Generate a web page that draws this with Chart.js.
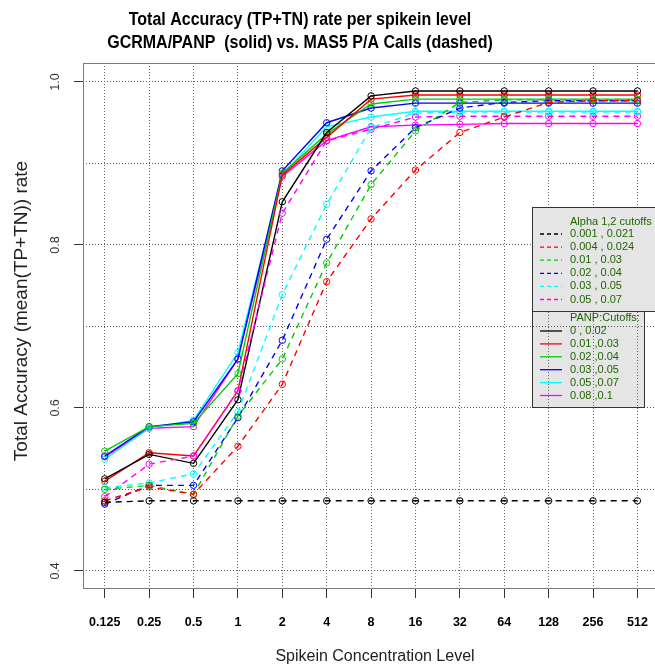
<!DOCTYPE html>
<html>
<head>
<meta charset="utf-8">
<script src="https://cdn.jsdelivr.net/npm/chart.js@4.4.0/dist/chart.umd.min.js"></script>
<style>
  html, body { margin: 0; padding: 0; background: #fff; }
  #wrap { width: 655px; height: 667px; overflow: hidden; }
</style>
</head>
<body>
<div id="wrap"><canvas id="c" width="665" height="667"></canvas></div>
<script>
const spikeLevels = ['0.125', '0.25', '0.5', '1', '2', '4', '8', '16', '32', '64', '128', '256', '512'];
const seriesColors = ['#000000', '#ff0000', '#00cd00', '#0000ff', '#00ffff', '#ff00ff'];
const yGridValues = [0.4, 0.5, 0.6, 0.7, 0.8, 0.9, 1.0];
const yTickValues = [0.4, 0.6, 0.8, 1.0];
const yTickLabels = ['0.4', '0.6', '0.8', '1.0'];

// MAS5 P/A calls (dashed)
const mas5Labels = ['0.001 , 0.021', '0.004 , 0.024', '0.01 , 0.03', '0.02 , 0.04', '0.03 , 0.05', '0.05 , 0.07'];
const mas5Black   = [0.484, 0.486, 0.486, 0.486, 0.486, 0.486, 0.486, 0.486, 0.486, 0.486, 0.486, 0.486, 0.486];
const mas5Red     = [0.486, 0.503, 0.494, 0.553, 0.629, 0.755, 0.832, 0.892, 0.938, 0.957, 0.975, 0.977, 0.977];
const mas5Green   = [0.500, 0.505, 0.494, 0.590, 0.660, 0.778, 0.874, 0.940, 0.975, 0.978, 0.978, 0.978, 0.978];
const mas5Blue    = [0.482, 0.505, 0.505, 0.588, 0.683, 0.807, 0.891, 0.944, 0.968, 0.975, 0.977, 0.977, 0.977];
const mas5Cyan    = [0.502, 0.508, 0.519, 0.595, 0.739, 0.850, 0.944, 0.962, 0.963, 0.963, 0.963, 0.963, 0.963];
const mas5Magenta = [0.491, 0.531, 0.541, 0.621, 0.839, 0.928, 0.942, 0.957, 0.958, 0.958, 0.958, 0.958, 0.958];

// GCRMA/PANP (solid)
const panpLabels = ['0 , 0.02', '0.01 ,0.03', '0.02 ,0.04', '0.03 ,0.05', '0.05 ,0.07', '0.08 ,0.1'];
const panpBlack   = [0.513, 0.543, 0.532, 0.610, 0.853, 0.938, 0.983, 0.989, 0.989, 0.989, 0.989, 0.989, 0.989];
const panpRed     = [0.510, 0.545, 0.541, 0.621, 0.886, 0.932, 0.979, 0.984, 0.984, 0.984, 0.984, 0.984, 0.984];
const panpGreen   = [0.547, 0.577, 0.581, 0.642, 0.888, 0.936, 0.973, 0.979, 0.979, 0.979, 0.979, 0.979, 0.979];
const panpBlue    = [0.541, 0.577, 0.583, 0.660, 0.891, 0.950, 0.968, 0.974, 0.974, 0.974, 0.974, 0.974, 0.974];
const panpCyan    = [0.537, 0.575, 0.585, 0.668, 0.886, 0.945, 0.957, 0.964, 0.964, 0.964, 0.964, 0.964, 0.964];
const panpMagenta = [0.540, 0.575, 0.577, 0.660, 0.884, 0.928, 0.945, 0.947, 0.948, 0.949, 0.949, 0.949, 0.949];

const mas5Series = [mas5Black, mas5Red, mas5Green, mas5Blue, mas5Cyan, mas5Magenta];
const panpSeries = [panpBlack, panpRed, panpGreen, panpBlue, panpCyan, panpMagenta];

const FONT = "'Liberation Sans', Arial, sans-serif";
const DASH = [6, 5];

function makeSet(values, i, dashed, label) {
    return {
        label: label,
        data: values.map((v, k) => ({ x: k, y: v })),
        borderColor: seriesColors[i],
        borderWidth: 1.4,
        borderDash: dashed ? DASH : [],
        pointRadius: 3.2,
        pointHoverRadius: 3.2,
        pointBorderWidth: 1,
        pointBorderColor: seriesColors[i],
        pointBackgroundColor: 'rgba(0,0,0,0)',
        tension: 0,
        fill: false
    };
}

// dashed sets first so they are painted on top
const datasets = [
    ...mas5Series.map((s, i) => makeSet(s, i, true, mas5Labels[i])),
    ...panpSeries.map((s, i) => makeSet(s, i, false, panpLabels[i]))
];

const decor = {
    id: 'decor',
    beforeDraw(chart) {
        // lower legend box sits under the grid in the original
        const ctx = chart.ctx;
        ctx.save();
        ctx.fillStyle = '#e5e5e5';
        ctx.fillRect(532, 311, 113, 96);
        ctx.restore();
    },
    afterDraw(chart) {
        const ctx = chart.ctx;
        const a = chart.chartArea;
        const yScale = chart.scales.y;
        ctx.save();

        // plot box
        ctx.strokeStyle = '#7a7a7a';
        ctx.lineWidth = 1;
        ctx.strokeRect(a.left + 0.5, a.top + 0.5, a.right - a.left, a.bottom - a.top);

        // main title (glyphs a bit taller than wide, like the original)
        ctx.fillStyle = '#000';
        ctx.textAlign = 'center';
        ctx.textBaseline = 'alphabetic';
        ctx.font = 'bold 16px ' + FONT;
        ctx.save();
        ctx.scale(1, 1.18);
        ctx.fillText('Total Accuracy (TP+TN) rate per spikein level', 300, 24.5 / 1.18);
        ctx.fillText('GCRMA/PANP  (solid) vs. MAS5 P/A Calls (dashed)', 300, 48 / 1.18);
        ctx.restore();

        ctx.fillStyle = '#222';
        ctx.font = '16px ' + FONT;
        ctx.textBaseline = 'middle';
        ctx.fillText('Spikein Concentration Level', 375, 657);

        ctx.save();
        ctx.font = '19px ' + FONT;
        ctx.translate(22, 311);
        ctx.rotate(-Math.PI / 2);
        ctx.fillText('Total Accuracy (mean(TP+TN)) rate', 0, 0);
        ctx.restore();

        // y tick labels, rotated like R's default
        ctx.fillStyle = '#333';
        ctx.font = '12.5px ' + FONT;
        yTickValues.forEach((v, i) => {
            const py = yScale.getPixelForValue(v);
            ctx.save();
            ctx.translate(56, py);
            ctx.rotate(-Math.PI / 2);
            ctx.fillText(yTickLabels[i], 0, 0);
            ctx.restore();
        });

        // upper legend box (MAS5)
        ctx.fillStyle = '#e5e5e5';
        ctx.fillRect(532, 207, 140, 104);
        ctx.strokeStyle = '#333';
        ctx.strokeRect(532.5, 207.5, 140, 104);
        ctx.strokeRect(532.5, 311.5, 112, 96);

        const green = '#1f6400';
        ctx.textAlign = 'left';
        ctx.font = '11px ' + FONT;
        ctx.fillStyle = green;
        ctx.fillText('Alpha 1,2 cutoffs', 570, 222);
        mas5Labels.forEach((t, i) => {
            const y = 234 + i * 13.1;
            ctx.strokeStyle = seriesColors[i];
            ctx.lineWidth = 1.3;
            ctx.setLineDash([4, 3]);
            ctx.beginPath();
            ctx.moveTo(540, y);
            ctx.lineTo(562, y);
            ctx.stroke();
            ctx.fillStyle = green;
            ctx.fillText(t, 570, y);
        });

        ctx.setLineDash([]);
        ctx.fillText('PANP:Cutoffs:', 570, 318);
        panpLabels.forEach((t, i) => {
            const y = 331 + i * 12.9;
            ctx.strokeStyle = seriesColors[i];
            ctx.lineWidth = 1.3;
            ctx.beginPath();
            ctx.moveTo(540, y);
            ctx.lineTo(562, y);
            ctx.stroke();
            ctx.fillStyle = green;
            ctx.fillText(t, 570, y);
        });

        ctx.restore();
    }
};

new Chart(document.getElementById('c'), {
    type: 'line',
    data: { datasets: datasets },
    options: {
        responsive: false,
        animation: false,
        events: [],
        layout: { padding: { top: 63, left: 0, right: 0, bottom: 0 } },
        plugins: {
            legend: { display: false },
            title: { display: false },
            tooltip: { enabled: false }
        },
        scales: {
            x: {
                type: 'linear',
                min: -0.49,
                max: 12.49,
                afterFit: s => { s.height = 79; },
                afterBuildTicks: s => { s.ticks = spikeLevels.map((_, k) => ({ value: k })); },
                border: { display: false, dash: [1, 2] },
                grid: {
                    color: '#666',
                    lineWidth: 1,
                    drawTicks: true,
                    tickLength: 10,
                    tickColor: '#333'
                },
                ticks: {
                    color: '#000',
                    font: { family: FONT, size: 12.5, weight: 'bold' },
                    padding: 17,
                    maxRotation: 0,
                    autoSkip: false,
                    callback: v => spikeLevels[v]
                }
            },
            y: {
                type: 'linear',
                min: 0.379,
                max: 1.0233,
                afterFit: s => { s.width = 83; },
                afterBuildTicks: s => { s.ticks = yGridValues.map(v => ({ value: v })); },
                border: { display: false, dash: [1, 2] },
                grid: {
                    color: '#555',
                    lineWidth: 1,
                    drawTicks: true,
                    tickLength: 9,
                    tickColor: c => yTickValues.some(v => Math.abs(v - c.tick.value) < 1e-6) ? '#333' : 'rgba(0,0,0,0)'
                },
                ticks: { display: false }
            }
        }
    },
    plugins: [decor]
});
</script>
</body>
</html>
